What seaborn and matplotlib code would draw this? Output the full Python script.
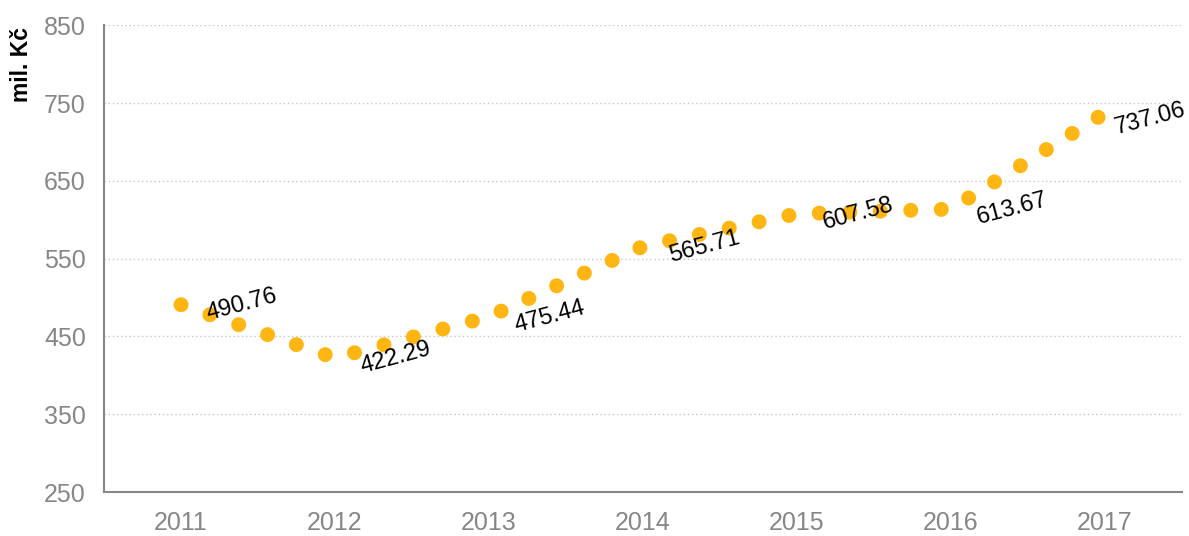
import numpy as np
import pandas as pd
import matplotlib
matplotlib.use("Agg")
import matplotlib.pyplot as plt
import seaborn as sns

years = ["2011", "2012", "2013", "2014", "2015", "2016", "2017"]
values = [490.76, 422.29, 475.44, 565.71, 607.58, 613.67, 737.06]
y_ticks = [250, 350, 450, 550, 650, 750, 850]

df = pd.DataFrame({"rok": years, "hodnota": values})
df["pos"] = np.arange(len(years))

sns.set_style("white")
plt.rcParams["font.family"] = ["Liberation Sans Narrow", "Liberation Sans", "DejaVu Sans"]

grey = "#878787"
dot_color = "#FFB612"

fig = plt.figure(figsize=(11.89, 5.36), dpi=100)
ax = fig.add_axes([0.0875, 0.082, 0.9065, 0.871])

# dotted line made of round dots
dot_px = 15
lw = dot_px * 72 / 100
gap = 30.5 / dot_px
sns.lineplot(data=df, x="pos", y="hodnota", ax=ax, color=dot_color,
             linewidth=lw, linestyle=(0, (0.001, gap)), sort=False)
for l in ax.get_lines():
    l.set_dash_capstyle("round")

# data labels, the last one pulled in so it stays inside the figure
for i, (xi, yi) in enumerate(zip(df["pos"], df["hodnota"])):
    off = (44, 0) if i < len(values) - 1 else (33, -4)
    ax.annotate(f"{yi:.2f}", (xi, yi), xytext=off, textcoords="offset points",
                ha="center", va="center", rotation=15, fontsize=17,
                color="black", family=["Liberation Sans", "DejaVu Sans"])

ax.set_xlim(-0.5, len(years) - 0.5)
ax.set_ylim(250, 850)
ax.set_yticks(y_ticks)
ax.set_xticks(np.arange(len(years) + 1) - 0.5)
ax.set_xticklabels([])
ax.set_xticks(np.arange(len(years)), minor=True)
ax.set_xticklabels(years, minor=True)
ax.tick_params(axis="x", which="major", length=7, width=1.5, color=grey, direction="out")
ax.tick_params(axis="x", which="minor", length=0, pad=14, labelsize=18, labelcolor=grey)
ax.tick_params(axis="y", length=7, width=1.5, color=grey, labelsize=18, labelcolor=grey, pad=6)

ax.grid(axis="y", linestyle=(0, (1, 2)), color="#C8C8C8", linewidth=1)
ax.grid(axis="x", visible=False)
ax.set_axisbelow(True)

for s in ["top", "right"]:
    ax.spines[s].set_visible(False)
for s in ["left", "bottom"]:
    ax.spines[s].set_color(grey)
    ax.spines[s].set_linewidth(1.5)

ax.set_xlabel("")
ax.set_ylabel("mil. Kč", fontsize=16.5, fontweight="bold", color="black")
ax.yaxis.set_label_coords(-0.066, 0.915)

fig.savefig("out.png", dpi=100)
